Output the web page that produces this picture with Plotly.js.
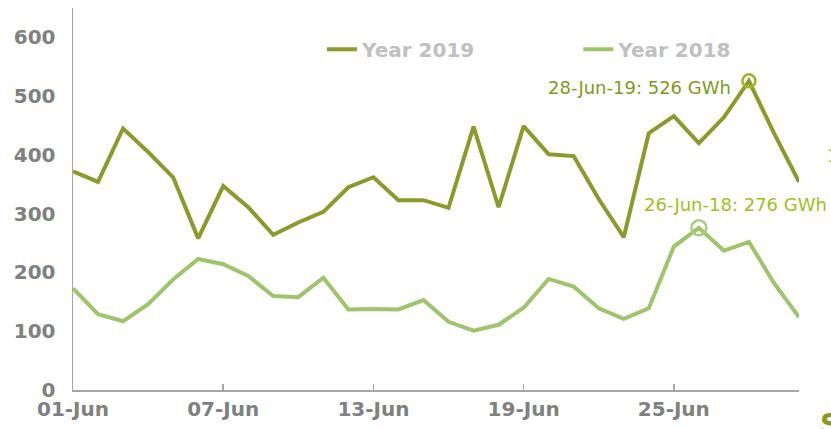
<!DOCTYPE html>
<html>
<head>
<meta charset="utf-8">
<script src="https://cdn.plot.ly/plotly-3.0.1.min.js"></script>
<style>
  html, body { margin: 0; padding: 0; background: #fff; }
  #plot { width: 831px; height: 429px; }
</style>
</head>
<body>
<div id="plot"></div>
<script>
// daily peak demand, June (plotted on a common June axis)
var days = ['2019-06-01', '2019-06-02', '2019-06-03', '2019-06-04', '2019-06-05', '2019-06-06',
    '2019-06-07', '2019-06-08', '2019-06-09', '2019-06-10', '2019-06-11', '2019-06-12',
    '2019-06-13', '2019-06-14', '2019-06-15', '2019-06-16', '2019-06-17', '2019-06-18',
    '2019-06-19', '2019-06-20', '2019-06-21', '2019-06-22', '2019-06-23', '2019-06-24',
    '2019-06-25', '2019-06-26', '2019-06-27', '2019-06-28', '2019-06-29', '2019-06-30'];

var year2019 = [372, 354, 445, 405, 362, 258, 347, 311, 264, 285, 303, 345,
    362, 323, 323, 310, 448, 311, 449, 401, 398, 325, 260, 437,
    466, 420, 464, 526, 437, 354];

var year2018 = [173, 129, 117, 146, 188, 223, 214, 194, 160, 158, 191, 137,
    138, 137, 153, 116, 101, 111, 140, 189, 176, 139, 121, 139,
    244, 276, 237, 252, 182, 124];

var peakDays = ['2019-06-28', '2019-06-26'];
var peakValues = [526, 276];
var peakLabels = ['28-Jun-19: 526 GWh', '26-Jun-18: 276 GWh'];

var dark = '#8b9b2b';
var light = '#9fc46c';

var trace1 = {
    x: days,
    y: year2019,
    type: 'scatter',
    mode: 'lines',
    name: 'Year 2019',
    legend: 'legend',
    line: { color: dark, width: 4 }
};

var trace2 = {
    x: days,
    y: year2018,
    type: 'scatter',
    mode: 'lines',
    name: 'Year 2018',
    legend: 'legend2',
    line: { color: light, width: 4 }
};

// circles on the peaks
var peak1 = {
    x: [peakDays[0]],
    y: [peakValues[0]],
    type: 'scatter',
    mode: 'markers',
    showlegend: false,
    cliponaxis: false,
    marker: { symbol: 'circle-open', size: 13, color: '#9db81e', line: { width: 2.5 } }
};

var peak2 = {
    x: [peakDays[1]],
    y: [peakValues[1]],
    type: 'scatter',
    mode: 'markers',
    showlegend: false,
    cliponaxis: false,
    marker: { symbol: 'circle-open', size: 15, color: '#a9cc80', line: { width: 2.5 } }
};

var tickFont = { family: 'DejaVu Sans', size: 20, color: '#808080', weight: 'bold' };
var legendFont = { family: 'DejaVu Sans', size: 20, color: '#c0c0c0', weight: 'bold' };

var layout = {
    width: 831,
    height: 429,
    margin: { l: 73, r: 32, t: 8, b: 39 },
    paper_bgcolor: '#fff',
    plot_bgcolor: '#fff',
    showlegend: true,
    legend: {
        orientation: 'h',
        x: 0.343, y: 0.943,
        xanchor: 'left', yanchor: 'top',
        font: legendFont,
        bgcolor: 'rgba(0,0,0,0)'
    },
    legend2: {
        orientation: 'h',
        x: 0.696, y: 0.943,
        xanchor: 'left', yanchor: 'top',
        font: legendFont,
        bgcolor: 'rgba(0,0,0,0)'
    },
    xaxis: {
        type: 'date',
        range: ['2019-06-01', '2019-06-30'],
        tick0: '2019-06-01',
        dtick: 6 * 86400000,
        tickformat: '%d-%b',
        ticks: 'inside',
        ticklen: 6,
        tickcolor: '#a6a6a6',
        tickwidth: 1.5,
        showline: true,
        linecolor: '#a6a6a6',
        linewidth: 1.5,
        showgrid: false,
        zeroline: false,
        tickfont: tickFont
    },
    yaxis: {
        range: [0, 650],
        tickvals: [0, 100, 200, 300, 400, 500, 600],
        ticks: '',
        showline: true,
        linecolor: '#a6a6a6',
        linewidth: 1.5,
        showgrid: false,
        zeroline: false,
        tickfont: tickFont,
        ticklabelstandoff: 12
    },
    annotations: [
        {
            x: peakDays[0], y: peakValues[0], xref: 'x', yref: 'y',
            text: peakLabels[0], showarrow: false,
            xanchor: 'right', xshift: -16, yshift: -7,
            font: { family: 'DejaVu Sans', size: 18, color: '#7f9a1e' }
        },
        {
            x: peakDays[1], y: peakValues[1], xref: 'x', yref: 'y',
            text: peakLabels[1], showarrow: false,
            xanchor: 'center', xshift: 37, yshift: 23,
            font: { family: 'DejaVu Sans', size: 18, color: '#9cc21e' }
        },
        {
            x: 1.036, y: 0.615, xref: 'paper', yref: 'paper',
            text: '1', showarrow: false, xanchor: 'left',
            font: { family: 'DejaVu Sans', size: 18, color: '#9cc21e' }
        },
        {
            x: 1.026, y: -0.042, xref: 'paper', yref: 'paper',
            text: 'S', showarrow: false, xanchor: 'left', yanchor: 'top',
            font: { family: 'DejaVu Sans', size: 28, color: '#8a9a1c', weight: 'bold' }
        }
    ]
};

Plotly.newPlot('plot', [trace1, trace2, peak1, peak2], layout, { displayModeBar: false, staticPlot: true });
</script>
</body>
</html>
